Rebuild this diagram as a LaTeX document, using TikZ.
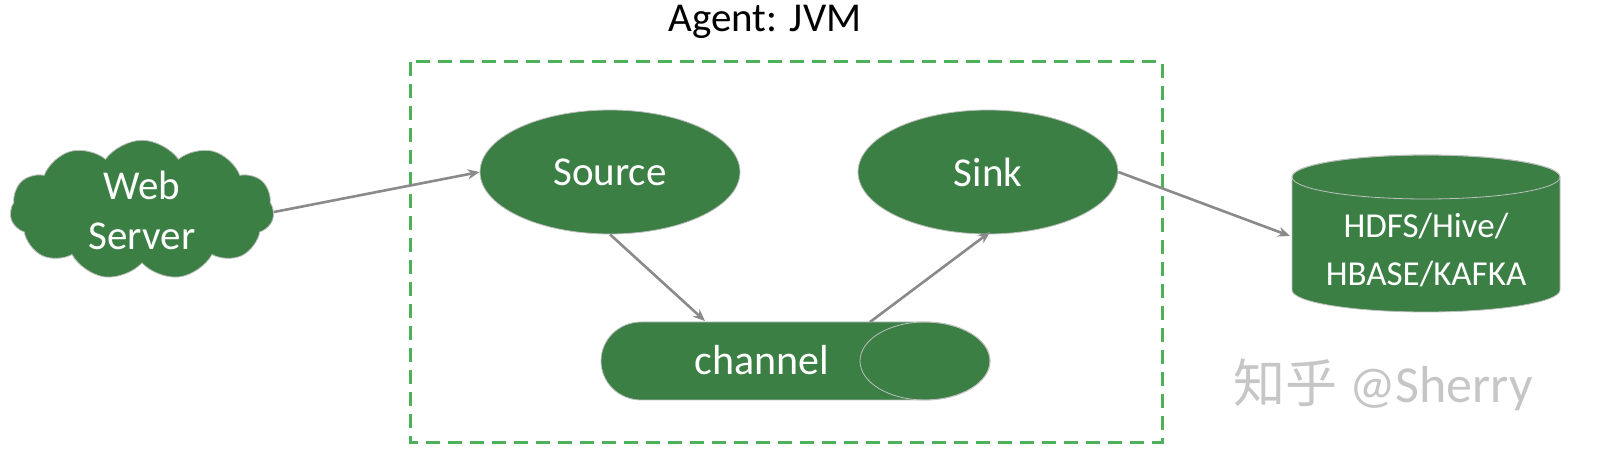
\documentclass[tikz,border=0pt]{standalone}
\usepackage{fontspec}
\setmainfont{Carlito}
\newfontfamily\cjk{Noto Sans CJK SC}
\usetikzlibrary{shapes.geometric,shapes.symbols,arrows.meta}
\definecolor{fg}{HTML}{3B7F45}
\definecolor{dashgreen}{HTML}{4DB05A}
\definecolor{arr}{HTML}{8A8A8A}
\begin{document}
\begin{tikzpicture}[x=0.5pt,y=-0.5pt,
  comp/.style={fill=fg,draw=gray!50,line width=0.4pt,text=white,font=\fontsize{20.5}{25}\selectfont,align=center,inner sep=0pt},
  shp/.style={fill=fg,draw=gray!50,line width=0.4pt},
  conn/.style={draw=arr,line width=1.3pt,-{Stealth[length=6pt,width=5pt]}}]
\useasboundingbox (0,0) rectangle (1600,464);
\node (title) at (765,22) {\fontsize{20.5}{24}\selectfont Agent: JVM};
\draw[dashgreen,line width=1.5pt,dash pattern=on 7pt off 4pt] (410,62) rectangle (1162,442);
\node[comp,cloud,cloud puffs=11,cloud puff arc=110,aspect=2,minimum width=132pt,minimum height=66pt] (web) at (142,210) {Web\\Server};
\node[comp,ellipse,minimum width=130pt,minimum height=62pt] (src) at (610,172) {Source};
\node[comp,ellipse,minimum width=130pt,minimum height=62pt] (sink) at (988,172) {Sink};
\path[shp] (641,322) -- (925,322) arc[start angle=90,end angle=-90,x radius=65,y radius=-39] -- (641,400) arc[start angle=270,end angle=90,x radius=40,y radius=-39] -- cycle;
\draw[gray!50,line width=0.4pt] (925,361) ellipse[x radius=65,y radius=39];
\node[text=white,font=\fontsize{21}{25}\selectfont] (ch) at (762,360) {channel};
\path[shp] (1292,177) -- (1292,290) arc[start angle=180,end angle=360,x radius=134,y radius=-22] -- (1560,177) arc[start angle=0,end angle=180,x radius=134,y radius=-22] -- cycle;
\draw[gray!50,line width=0.4pt] (1426,177) ellipse[x radius=134,y radius=22];
\node[text=white,font=\fontsize{17.5}{24}\selectfont,align=center] (db) at (1426,250) {HDFS/Hive/\\HBASE/KAFKA};
\node[text=gray!45,font=\fontsize{26}{30}\selectfont] (wm) at (1383,385) {{\cjk 知乎} @Sherry};
\coordinate (p0) at (274,212);
\coordinate (p1) at (705,321);
\coordinate (p2) at (870,322);
\coordinate (p3) at (990,232);
\coordinate (p4) at (1290,236);
\draw[conn] (p0) -- (src.west);
\draw[conn] (src.south) -- (p1);
\draw[conn] (p2) -- (p3);
\draw[conn] (sink.east) -- (p4);
\end{tikzpicture}
\end{document}
